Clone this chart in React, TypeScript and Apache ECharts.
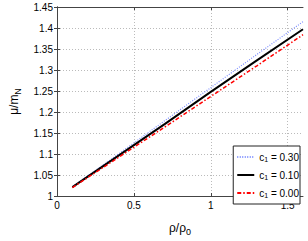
import React, { useEffect, useRef } from "react";
import * as echarts from "echarts";

const xValues = [0.1, 0.4, 0.7, 1.0, 1.3, 1.6];
const seriesNames = ["c1 = 0.30", "c1 = 0.10", "c1 = 0.00"];
const c030 = [1.022, 1.1, 1.179, 1.258, 1.337, 1.415];
const c010 = [1.021, 1.096, 1.171, 1.248, 1.323, 1.397];
const c000 = [1.02, 1.092, 1.164, 1.237, 1.31, 1.384];
const xTicks = [0, 0.5, 1, 1.5];
const legendLabels: Record<string, string> = {
  "c1 = 0.30": "c{sub|1} = 0.30",
  "c1 = 0.10": "c{sub|1} = 0.10",
  "c1 = 0.00": "c{sub|1} = 0.00",
};

const font = "Liberation Sans, Arial, Helvetica, sans-serif";

export default function App() {
  const ref = useRef<HTMLDivElement>(null);
  useEffect(() => {
    const chart = echarts.init(ref.current!, null, { renderer: "svg" });
    const pair = (ys: number[]) => xValues.map((x, i) => [x, ys[i]]);
    const baseX = {
      type: "value",
      min: 0,
      max: 1.6,
      interval: 0.5,
      axisLine: { show: true, lineStyle: { color: "#444", width: 1 } },
      axisTick: { show: true, inside: true, length: 3, customValues: xTicks, lineStyle: { color: "#444" } },
      splitLine: { show: false },
    };
    const baseY = {
      type: "value",
      min: 1,
      max: 1.45,
      interval: 0.05,
      axisLine: { show: true, lineStyle: { color: "#444", width: 1 } },
      axisTick: { show: true, inside: true, length: 3, lineStyle: { color: "#444" } },
      splitLine: { show: false },
    };
    chart.setOption({
      animation: false,
      grid: { left: 48, top: 7, right: 5, bottom: 35 },
      legend: {
        data: seriesNames,
        right: 8,
        bottom: 37,
        orient: "vertical",
        backgroundColor: "#fff",
        borderColor: "#222",
        borderWidth: 1,
        borderRadius: 0,
        padding: [5, 1, 5, 3],
        itemGap: 6,
        itemWidth: 17,
        itemHeight: 10,
        itemStyle: { opacity: 0 },
        formatter: (n: string) => legendLabels[n],
        textStyle: {
          fontFamily: font,
          fontSize: 10,
          lineHeight: 12,
          color: "#000",
          rich: { sub: { fontSize: 7, lineHeight: 7, verticalAlign: "bottom", fontFamily: font } },
        },
      },
      xAxis: [
        {
          ...baseX,
          name: "ρ/ρ{sub|0}",
          nameLocation: "middle",
          nameGap: 24,
          nameTextStyle: {
            fontFamily: font,
            fontSize: 12,
            color: "#000",
            rich: { sub: { fontSize: 9, padding: [7, 0, 0, 0], fontFamily: font } },
          },
          axisLabel: {
            fontFamily: font,
            fontSize: 10,
            color: "#000",
            margin: 4,
            customValues: xTicks,
            hideOverlap: false,
          },
          splitLine: { show: true, lineStyle: { color: "#bbb", type: [1, 2], width: 1 } },
        },
        {
          ...baseX,
          position: "top",
          axisLabel: { show: false },
        },
      ],
      yAxis: [
        {
          ...baseY,
          name: "μ/m{sub|N}",
          nameLocation: "middle",
          nameGap: 35,
          nameTextStyle: {
            fontFamily: font,
            fontSize: 12,
            color: "#000",
            rich: { sub: { fontSize: 9, padding: [7, 0, 0, 0], fontFamily: font } },
          },
          axisLabel: { fontFamily: font, fontSize: 10, color: "#000", margin: 4, formatter: (v: number) => String(Math.round(v * 100) / 100) },
          splitLine: { show: true, lineStyle: { color: "#bbb", type: [1, 2], width: 1 } },
        },
        {
          ...baseY,
          position: "right",
          axisLabel: { show: false },
        },
      ],
      series: [
        {
          name: seriesNames[0],
          type: "line",
          data: pair(c030),
          showSymbol: false,
          symbol: "none",
          lineStyle: { color: "#7b8cff", width: 1.2, type: [1, 1.5] },
          itemStyle: { color: "#7b8cff" },
        },
        {
          name: seriesNames[1],
          type: "line",
          data: pair(c010),
          showSymbol: false,
          symbol: "none",
          lineStyle: { color: "#000", width: 2 },
          itemStyle: { color: "#000" },
        },
        {
          name: seriesNames[2],
          type: "line",
          data: pair(c000),
          showSymbol: false,
          symbol: "none",
          lineStyle: { color: "#ff0000", width: 1.5, type: [4, 2, 1.5, 2] },
          itemStyle: { color: "#ff0000" },
        },
      ],
    });
    return () => chart.dispose();
  }, []);
  return (
    <div
      ref={ref}
      style={{ position: "fixed", left: 0, top: 0, width: 308, height: 241, background: "#fff" }}
    />
  );
}
